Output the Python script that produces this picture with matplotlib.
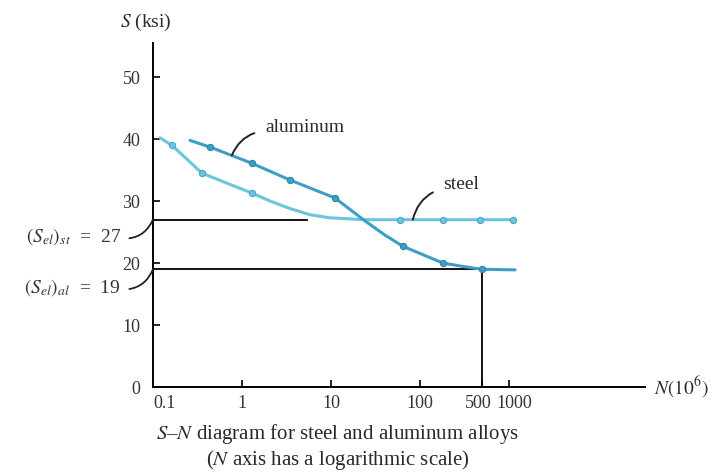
import matplotlib
matplotlib.use("Agg")
import matplotlib.pyplot as plt
from matplotlib.transforms import ScaledTranslation

plt.rcParams['font.family'] = ['Liberation Serif', 'DejaVu Serif']
plt.rcParams['mathtext.fontset'] = 'stix'

# curves: N in 10^6 cycles, S in ksi
al_n = [0.26, 0.44, 1.29, 3.46, 11.1, 24.1, 40.5, 64.4, 181, 320, 500, 1170]
al_s = [39.8, 38.7, 36.1, 33.4, 30.5, 26.8, 24.5, 22.7, 20.0, 19.4, 19.0, 18.9]
al_mark = [1, 2, 3, 4, 7, 8, 10]

st_n = [0.12, 0.163, 0.356, 0.73, 1.29, 2.07, 3.46, 5.8, 9.75, 24, 59.6, 181, 472, 1110]
st_s = [40.2, 39.0, 34.5, 32.7, 31.3, 30.0, 28.8, 27.8, 27.3, 27.0, 27.0, 27.0, 27.0, 27.0]
st_mark = [1, 2, 4, 10, 11, 12, 13]

xticks = [1, 10, 100, 500, 1000]
xticklabels = ["1", "10", "100", "500", "1000"]
yticks = [0, 10, 20, 30, 40, 50]

se_st = 27
se_al = 19
n_st = 5.4
n_al = 500

al_color = "#3d9fc4"
st_color = "#6cc4de"
txt = "#2a2a2a"

fig = plt.figure(figsize=(7.21, 4.74), dpi=100)
ax = fig.add_axes([0.2122, 0.1835, 0.6824, 0.7257])

ax.set_xscale('log')
ax.set_xlim(0.1, 33700)
ax.set_ylim(0, 55.5)

ax.plot(st_n, st_s, color=st_color, lw=2.2, solid_capstyle='round', zorder=3)
ax.plot([st_n[i] for i in st_mark], [st_s[i] for i in st_mark], 'o', ms=4.5,
        color=st_color, mec="#4aa8c4", mew=0.8, zorder=4)
ax.plot(al_n, al_s, color=al_color, lw=2.2, solid_capstyle='round', zorder=3)
ax.plot([al_n[i] for i in al_mark], [al_s[i] for i in al_mark], 'o', ms=4.5,
        color=al_color, mec="#2d86a8", mew=0.8, zorder=4)

# endurance limit lines
ax.plot([0.1, n_st], [se_st, se_st], color='black', lw=1.3, zorder=2)
ax.plot([0.1, n_al], [se_al, se_al], color='black', lw=1.3, zorder=2)
ax.plot([n_al, n_al], [0, se_al], color='black', lw=1.3, zorder=2)

for s in ('top', 'right'):
    ax.spines[s].set_visible(False)
ax.spines['left'].set_linewidth(1.4)
ax.spines['bottom'].set_linewidth(1.4)

ax.set_yticks(yticks)
ax.set_yticklabels([str(v) for v in yticks], color='#333333')
ax.set_xticks(xticks)
ax.set_xticklabels(xticklabels, color='#333333')
ax.minorticks_off()
ax.tick_params(axis='both', direction='in', length=5, width=1.2, labelsize=13)
ax.tick_params(axis='y', pad=9)
ax.tick_params(axis='x', pad=6)

# nudge the crowded 500 / 1000 labels apart like the original
xl = ax.get_xticklabels()
xl[3].set_transform(xl[3].get_transform() + ScaledTranslation(-3 / 72, 0, fig.dpi_scale_trans))
xl[4].set_transform(xl[4].get_transform() + ScaledTranslation(4 / 72, 0, fig.dpi_scale_trans))

ax.text(0.1, -1.3, "0.1", transform=ax.transData, ha='left', va='top',
        fontsize=13, color='#333333')

# axis labels
ax.text(-0.068, 1.061, r"$S$ (ksi)", transform=ax.transAxes, ha='left',
        va='center', fontsize=14, color=txt)
ax.text(1.018, 0.0, r"$N(10^6)$", transform=ax.transAxes, ha='left',
        va='center', fontsize=14, color=txt)

# curve labels with leaders
ax.annotate("aluminum", xy=(0.77, 37.4), xytext=(24, 20), textcoords='offset points',
            ha='left', va='center', fontsize=14, color=txt,
            arrowprops=dict(arrowstyle='-', color='#222222', lw=1.4,
                            connectionstyle='arc3,rad=0.3', relpos=(0, 0.3),
                            shrinkA=6, shrinkB=0))
ax.annotate("steel", xy=(83, 27), xytext=(22, 25), textcoords='offset points',
            ha='left', va='center', fontsize=14, color=txt,
            arrowprops=dict(arrowstyle='-', color='#222222', lw=1.4,
                            connectionstyle='arc3,rad=0.3', relpos=(0, 0.3),
                            shrinkA=6, shrinkB=0))

ax.annotate(r"$(S_{el})_{st}$  =  27", xy=(0.1, se_st), xytext=(-23, -12),
            textcoords='offset points', ha='right', va='center', fontsize=14,
            color='#333333', annotation_clip=False,
            arrowprops=dict(arrowstyle='-', color='#222222', lw=1.3,
                            connectionstyle='arc3,rad=0.35', relpos=(1, 0.4),
                            shrinkA=4, shrinkB=0))
ax.annotate(r"$(S_{el})_{al}$  =  19", xy=(0.1, se_al), xytext=(-23, -13),
            textcoords='offset points', ha='right', va='center', fontsize=14,
            color='#333333', annotation_clip=False,
            arrowprops=dict(arrowstyle='-', color='#222222', lw=1.3,
                            connectionstyle='arc3,rad=0.35', relpos=(1, 0.4),
                            shrinkA=4, shrinkB=0))

# caption
fig.text(0.468, 0.085, r"$S$–$N$ diagram for steel and aluminum alloys",
         ha='center', va='center', fontsize=15, color=txt)
fig.text(0.468, 0.030, r"($N$ axis has a logarithmic scale)",
         ha='center', va='center', fontsize=15, color=txt)

fig.savefig("out.png", dpi=100)
